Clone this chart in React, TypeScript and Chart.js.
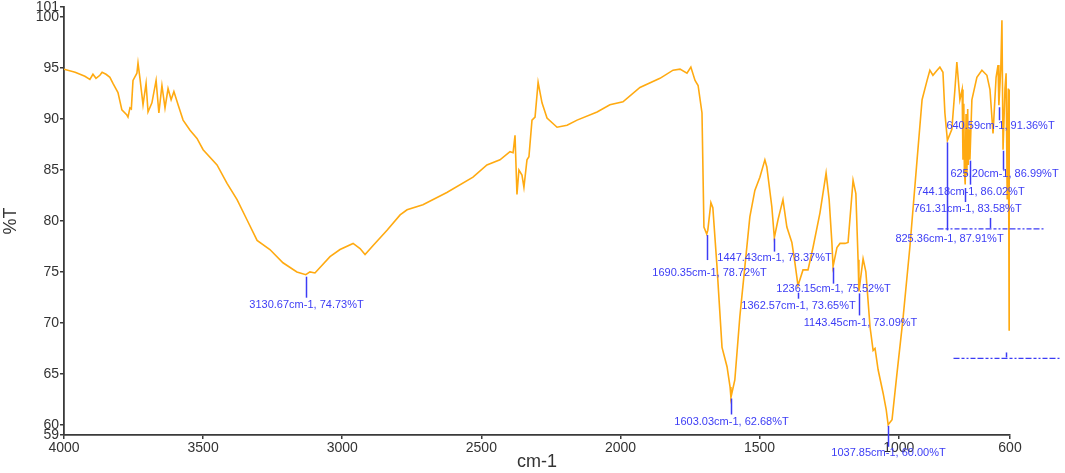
import React, { useEffect, useRef } from "react";
import { Chart, registerables } from "chart.js";

Chart.register(...registerables);

// Spectrum (wavenumber in cm-1, transmittance in %T)
const wavenumber = [
  4000, 3960, 3925, 3907, 3896, 3885, 3871, 3863, 3849, 3835, 3824, 3806, 3792, 3774, 3770, 3763, 3758,
  3752, 3738, 3734, 3727, 3716, 3705, 3698, 3684, 3669, 3659, 3648, 3637, 3626, 3615, 3605, 3590,
  3572, 3547, 3522, 3500, 3450, 3414, 3378, 3342, 3306, 3260, 3213, 3163, 3131, 3116, 3098, 3044,
  3008, 2961, 2936, 2918, 2889, 2839, 2792, 2767, 2710, 2624, 2530, 2480, 2433, 2397, 2386, 2379,
  2372, 2365, 2354, 2347, 2336, 2329, 2318, 2307, 2296, 2282, 2264, 2228, 2192, 2156, 2084, 2038,
  1991, 1930, 1858, 1811, 1786, 1761, 1747, 1732, 1721, 1707, 1700, 1690, 1686, 1675, 1668, 1653,
  1635, 1617, 1606, 1603, 1589, 1571, 1553, 1535, 1517, 1499, 1481, 1474, 1456, 1447, 1434, 1416,
  1402, 1384, 1373, 1362, 1344, 1326, 1308, 1283, 1261, 1250, 1240, 1236, 1222, 1211, 1193, 1182,
  1164, 1154, 1146, 1143, 1128, 1118, 1103, 1092, 1085, 1074, 1056, 1045, 1038, 1024, 1006, 985,
  960, 934, 916, 898, 888, 877, 862, 852, 841, 834, 825, 809, 798, 791, 780, 772, 769, 766, 764,
  761, 758, 755, 752, 750, 747, 744, 737, 719, 701, 683, 672, 661, 650, 643, 640, 633, 629, 625,
  618, 614, 610, 606, 603, 601, 600,
];
const transmittance = [
  94.9, 94.6, 94.2, 93.9, 94.4, 94.0, 94.3, 94.6, 94.4, 94.1, 93.5, 92.6, 90.9, 90.4, 90.2, 91.1, 91.0,
  93.8, 94.5, 95.5, 94.0, 91.4, 93.5, 90.7, 91.6, 93.8, 90.6, 93.3, 91.1, 93.0, 91.9, 92.7, 91.4,
  89.9, 88.9, 88.1, 87.0, 85.5, 83.7, 82.1, 80.1, 78.1, 77.2, 75.9, 75.0, 74.73, 75.0, 74.9, 76.5,
  77.2, 77.8, 77.3, 76.7, 77.6, 79.1, 80.6, 81.1, 81.6, 82.8, 84.3, 85.5, 86.0, 86.8, 86.7, 88.4,
  82.6, 85.0, 84.5, 83.3, 86.0, 86.3, 89.9, 90.2, 93.6, 91.6, 90.1, 89.2, 89.4, 89.9, 90.7, 91.4,
  91.7, 93.1, 94.0, 94.8, 94.9, 94.5, 95.1, 93.8, 93.3, 90.6, 79.4, 78.72, 79.1, 81.8, 81.3, 75.5,
  67.6, 65.7, 63.7, 62.68, 64.4, 70.6, 75.5, 80.4, 83.0, 84.3, 86.0, 85.3, 81.4, 78.37, 80.1, 82.1,
  79.4, 77.9, 75.9, 73.65, 75.2, 75.2, 77.4, 80.8, 84.7, 82.1, 77.8, 75.52, 77.4, 77.8, 77.8, 77.9,
  84.0, 82.7, 76.2, 73.09, 76.3, 75.0, 69.6, 67.3, 67.5, 65.4, 63.1, 61.5, 60.0, 60.5, 65.1, 70.3,
  77.4, 86.0, 91.9, 93.8, 94.8, 94.3, 94.8, 95.1, 94.6, 90.6, 87.91, 89.0, 92.9, 95.6, 91.9, 92.9, 86.0,
  91.5, 85.0, 83.58, 90.5, 84.5, 91.0, 85.5, 89.0, 86.02, 91.9, 94.1, 94.8, 94.3, 92.9, 88.6, 94.1, 95.3,
  91.36, 95.0, 99.7, 86.99, 93.0, 94.5, 82.1, 93.0, 69.3, 92.9, 69.3,
];

// Axis ticks
const xTickValues = [4000, 3500, 3000, 2500, 2000, 1500, 1000, 600];
const yTickValues = [59, 60, 65, 70, 75, 80, 85, 90, 95, 100, 101];

// Peak annotations
const peakWavenumbers = [3130.67, 1690.35, 1447.43, 1236.15, 1362.57, 1143.45, 1603.03, 1037.85, 825.36, 761.31, 744.18, 640.59, 625.2];
const peakTransmittance = [74.73, 78.72, 78.37, 75.52, 73.65, 73.09, 62.68, 60.0, 87.91, 83.58, 86.02, 91.36, 86.99];
// pixel layout of each annotation: [tickStart, tickEnd, labelCenterY, labelDx]
const peakLabelLayout = [
  [2, 23, 30, 0],
  [1, 26, 39, 2],
  [1, 14, 20, 0],
  [1, 17, 22, 0],
  [7, 13, 20, 0],
  [2, 24, 32, 1],
  [1, 17, 24, 0],
  [1, 22, 28, 0],
  [2, 90, 99, 2],
  [3.5, 17.5, 24.5, 2],
  [1, 25, 32, 0],
  [2, 15, 21, 1],
  [1, 20, 24, 1],
];
// illegible (overprinted) labels: wavenumber, %T at tick top
const blurredWavenumbers = [672, 614];
const blurredTransmittance = [80.3, 67.1];
const blurredTickLength = [10, 5];

const BLUE = "#3c3cf5";
const AXIS = "#3a3a3a";

const annotationPlugin = {
  id: "peakAnnotations",
  afterDatasetsDraw(chart: any) {
    const { ctx } = chart;
    const xs = chart.scales.x;
    const ys = chart.scales.y;
    ctx.save();
    ctx.strokeStyle = BLUE;
    ctx.fillStyle = BLUE;
    ctx.lineWidth = 1.5;
    ctx.font = "11px 'Liberation Sans', Arial, sans-serif";
    ctx.textAlign = "center";
    ctx.textBaseline = "middle";
    peakWavenumbers.forEach((wn, i) => {
      const t = peakTransmittance[i];
      const [d0, d1, ly, ldx] = peakLabelLayout[i];
      const x = Math.round(xs.getPixelForValue(wn)) + 0.5;
      const y = ys.getPixelForValue(t);
      ctx.beginPath();
      ctx.moveTo(x, y + d0);
      ctx.lineTo(x, y + d1);
      ctx.stroke();
      ctx.fillText(`${wn.toFixed(2)}cm-1, ${t.toFixed(2)}%T`, x + ldx, y + ly);
    });
    blurredWavenumbers.forEach((wn, i) => {
      const x = Math.round(xs.getPixelForValue(wn)) + 0.5;
      const y = ys.getPixelForValue(blurredTransmittance[i]);
      const len = blurredTickLength[i];
      ctx.setLineDash([]);
      ctx.lineWidth = 1.5;
      ctx.beginPath();
      ctx.moveTo(x, y);
      ctx.lineTo(x, y + len);
      ctx.stroke();
      ctx.lineWidth = 1.3;
      ctx.setLineDash([6, 2, 3, 2, 2, 2, 5, 2]);
      ctx.beginPath();
      ctx.moveTo(x - 53, y + len + 1);
      ctx.lineTo(x + 53, y + len + 1);
      ctx.stroke();
    });
    ctx.restore();
  },
};

export default function App() {
  const canvasRef = useRef<HTMLCanvasElement | null>(null);

  useEffect(() => {
    if (!canvasRef.current) return;
    const points = wavenumber.map((w, i) => ({ x: w, y: transmittance[i] }));
    const chart = new Chart(canvasRef.current, {
      type: "line",
      data: {
        datasets: [
          {
            data: points,
            borderColor: "#FFAA11",
            borderWidth: 1.6,
            pointRadius: 0,
            tension: 0,
            fill: false,
          },
        ],
      },
      options: {
        animation: false,
        responsive: true,
        maintainAspectRatio: false,
        parsing: true,
        layout: { padding: { left: 0, right: 55, top: 7, bottom: 0 } },
        plugins: { legend: { display: false }, tooltip: { enabled: false } },
        scales: {
          x: {
            type: "linear",
            reverse: true,
            min: 600,
            max: 4000,
            afterBuildTicks: (scale: any) => {
              scale.ticks = xTickValues.map((v) => ({ value: v }));
            },
            afterFit: (scale: any) => {
              scale.height = 38;
              scale.paddingLeft = 0;
              scale.paddingRight = 0;
            },
            ticks: {
              autoSkip: false,
              maxRotation: 0,
              padding: 1,
              color: "#333",
              font: { family: "'Liberation Sans', Arial, sans-serif", size: 14 },
              callback: (v: any) => String(v),
            },
            grid: { display: true, drawOnChartArea: false, drawTicks: true, tickLength: 4, color: AXIS, lineWidth: 1.5 },
            border: { display: true, color: AXIS, width: 1.8 },
            title: {
              display: true,
              text: "cm-1",
              color: "#333",
              padding: 0,
              font: { family: "'Liberation Sans', Arial, sans-serif", size: 18 },
            },
          },
          y: {
            type: "linear",
            min: 59,
            max: 101,
            afterBuildTicks: (scale: any) => {
              scale.ticks = yTickValues.map((v) => ({ value: v }));
            },
            afterFit: (scale: any) => {
              scale.width = 64;
              scale.paddingTop = 0;
              scale.paddingBottom = 0;
            },
            ticks: {
              autoSkip: false,
              padding: 1,
              color: "#333",
              font: { family: "'Liberation Sans', Arial, sans-serif", size: 14 },
              callback: (v: any) => String(v),
            },
            grid: { display: true, drawOnChartArea: false, drawTicks: true, tickLength: 4, color: AXIS, lineWidth: 1.5 },
            border: { display: true, color: AXIS, width: 1.8 },
            title: {
              display: true,
              text: "%T",
              color: "#333",
              padding: 0,
              font: { family: "'Liberation Sans', Arial, sans-serif", size: 18 },
            },
          },
        },
      },
      plugins: [annotationPlugin],
    });
    return () => chart.destroy();
  }, []);

  return (
    <div style={{ position: "absolute", left: 0, top: 0, width: 1065, height: 473, background: "#fff" }}>
      <canvas ref={canvasRef} />
    </div>
  );
}
